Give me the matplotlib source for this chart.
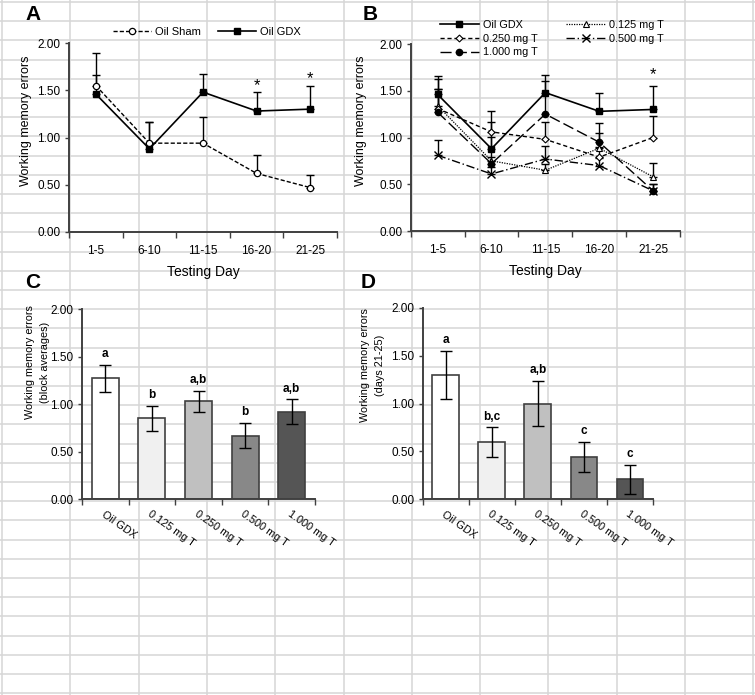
import matplotlib
matplotlib.use("Agg")
import matplotlib.pyplot as plt
import numpy as np

plt.rcParams['font.family'] = ['Liberation Sans', 'DejaVu Sans']

# ---- data ----
blocks = ["1-5", "6-10", "11-15", "16-20", "21-25"]

# panel A
sham_mean = [1.55, 0.94, 0.94, 0.62, 0.47]
sham_sem = [0.34, 0.22, 0.28, 0.20, 0.13]
gdx_mean = [1.46, 0.88, 1.48, 1.28, 1.30]
gdx_sem_a = [0.20, 0.28, 0.19, 0.20, 0.25]
sig_a = [False, False, False, True, True]

# panel B (dose groups)
gdx_sem = [0.20, 0.40, 0.19, 0.20, 0.25]
t125_mean = [1.34, 0.75, 0.65, 0.885, 0.58]
t125_sem = [0.29, 0.04, 0.07, 0.165, 0.15]
t250_mean = [1.31, 1.06, 0.98, 0.79, 1.00]
t250_sem = [0.21, 0.105, 0.185, 0.11, 0.235]
t500_mean = [0.81, 0.61, 0.77, 0.70, 0.43]
t500_sem = [0.16, 0.07, 0.14, 0.08, 0.07]
t1000_mean = [1.27, 0.72, 1.25, 0.95, 0.43]
t1000_sem = [0.25, 0.29, 0.35, 0.20, 0.07]
sig_b = [False, False, False, False, True]

# panels C and D
groups = ["Oil GDX", "0.125 mg T", "0.250 mg T", "0.500 mg T", "1.000 mg T"]
block_avg = [1.27, 0.85, 1.03, 0.67, 0.92]
block_sem = [0.14, 0.135, 0.11, 0.13, 0.13]
block_letters = ["a", "b", "a,b", "b", "a,b"]
late_avg = [1.30, 0.595, 1.00, 0.44, 0.21]
late_sem = [0.25, 0.155, 0.24, 0.16, 0.15]
late_letters = ["a", "b,c", "a,b", "c", "c"]
bar_colors = ["#ffffff", "#f0f0f0", "#c0c0c0", "#888888", "#555555"]

W, H = 755, 695
fig = plt.figure(figsize=(W / 100, H / 100), dpi=100)


def px_axes(left, top, right, bottom, **kw):
    return fig.add_axes([left / W, 1 - bottom / H, (right - left) / W, (bottom - top) / H], **kw)


# spreadsheet cell grid in the background
bg = fig.add_axes([0, 0, 1, 1], zorder=-5)
bg.set_xlim(0, W)
bg.set_ylim(H, 0)
bg.axis("off")
for gx in np.arange(2, W + 1, 68.3):
    bg.axvline(gx, color="#d6d6d6", lw=1.1)
for gy in np.arange(2, H + 1, 19.2):
    bg.axhline(gy, color="#d6d6d6", lw=1.1)

axis_col = "#404040"


def style_axes(ax, n):
    ax.patch.set_alpha(0)
    for s in ["top", "right"]:
        ax.spines[s].set_visible(False)
    for s in ["left", "bottom"]:
        ax.spines[s].set_color(axis_col)
        ax.spines[s].set_linewidth(1.4)
    ax.set_ylim(0, 2)
    ax.set_xlim(-0.5, n - 0.5)
    ax.set_yticks([0, 0.5, 1.0, 1.5, 2.0])
    ax.set_yticklabels(["%.2f" % v for v in [0, 0.5, 1.0, 1.5, 2.0]], fontsize=8.5)
    ax.set_xticks(np.arange(n))
    ax.set_xticks(np.arange(n + 1) - 0.5, minor=True)
    ax.tick_params(axis="y", direction="out", length=3, width=1, color=axis_col, pad=3)
    ax.tick_params(axis="x", which="major", length=0, pad=9)
    ax.tick_params(axis="x", which="minor", direction="out", length=4, width=1, color=axis_col)


def upper_err(ax, x, mean, sem):
    ax.errorbar(x, mean, yerr=[np.zeros(len(sem)), sem], fmt="none",
                ecolor="black", elinewidth=1, capsize=3, capthick=1, zorder=2)


x = np.arange(len(blocks))

# ---- panel A ----
axA = px_axes(69, 43, 337, 232)
style_axes(axA, len(blocks))
upper_err(axA, x, sham_mean, sham_sem)
upper_err(axA, x, gdx_mean, gdx_sem_a)
lA1, = axA.plot(x, sham_mean, color="black", lw=1, dashes=(3, 1.5), marker="o",
                ms=4.5, mfc="white", mec="black", mew=0.9, zorder=3)
lA2, = axA.plot(x, gdx_mean, color="black", lw=1.2, marker="s", ms=5,
                mfc="black", mec="black", zorder=3)
for i, s in enumerate(sig_a):
    if s:
        axA.text(i, gdx_mean[i] + gdx_sem_a[i] + 0.07, "*", ha="center", va="center",
                 fontsize=12)
axA.set_xticklabels(blocks, fontsize=8.5)
axA.set_xlabel("Testing Day", fontsize=10, labelpad=6)
axA.set_ylabel("Working memory errors", fontsize=9)
axA.yaxis.set_label_coords(-0.138, 0.59)
fig.legend([lA1, lA2], ["Oil Sham", "Oil GDX"], ncol=2, frameon=False, fontsize=8,
           loc="center", bbox_to_anchor=(207 / W, 1 - 32 / H), handlelength=3.4,
           columnspacing=1.5, handletextpad=0.4)

# ---- panel B ----
axB = px_axes(410.7, 44, 680, 231)
style_axes(axB, len(blocks))
for m, s in [(gdx_mean, gdx_sem), (t125_mean, t125_sem), (t250_mean, t250_sem),
             (t500_mean, t500_sem), (t1000_mean, t1000_sem)]:
    upper_err(axB, x, m, s)
lB_gdx, = axB.plot(x, gdx_mean, color="black", lw=1.2, marker="s", ms=5, zorder=3)
lB_125, = axB.plot(x, t125_mean, color="black", lw=0.9, dashes=(1, 1), marker="^",
                   ms=4, mfc="white", mec="black", mew=0.8, zorder=3)
lB_250, = axB.plot(x, t250_mean, color="black", lw=1, dashes=(3, 2), marker="D",
                   ms=3.5, mfc="white", mec="black", mew=0.8, zorder=3)
lB_500, = axB.plot(x, t500_mean, color="black", lw=1, dashes=(6, 2, 1, 2), marker="x",
                   ms=6, mec="black", mew=1, zorder=3)
lB_1000, = axB.plot(x, t1000_mean, color="black", lw=1, dashes=(8, 3), marker="o",
                    ms=4.5, mfc="black", mec="black", zorder=3)
for i, s in enumerate(sig_b):
    if s:
        axB.text(i, 1.67, "*", ha="center", va="center", fontsize=12)
axB.set_xticklabels(blocks, fontsize=8.5)
axB.set_xlabel("Testing Day", fontsize=10, labelpad=6)
axB.set_ylabel("Working memory errors", fontsize=9)
axB.yaxis.set_label_coords(-0.162, 0.59)
fig.legend([lB_gdx, lB_250, lB_1000, lB_125, lB_500],
           ["Oil GDX", "0.250 mg T", "1.000 mg T", "0.125 mg T", "0.500 mg T"],
           ncol=2, frameon=False, fontsize=7.8, loc="upper left",
           bbox_to_anchor=(430 / W, 1 - 10 / H), handlelength=3.6,
           columnspacing=2.6, handletextpad=0.4, labelspacing=0.35)


# ---- panels C and D ----
def bar_panel(ax, vals, sems, letters, ylabel, lx, ly):
    style_axes(ax, len(groups))
    xb = np.arange(len(groups))
    ax.bar(xb, vals, width=0.58, color=bar_colors, edgecolor="#404040", linewidth=1.2,
           yerr=sems, error_kw=dict(ecolor="black", elinewidth=1, capsize=4, capthick=1),
           zorder=2)
    for i in range(len(groups)):
        ax.text(i, vals[i] + sems[i] + 0.05, letters[i], ha="center", va="bottom",
                fontsize=8.5, fontweight="bold")
    ax.set_xticklabels(groups, fontsize=7.8, rotation=-35, ha="left",
                       rotation_mode="anchor")
    ax.tick_params(axis="x", which="major", pad=7)
    ax.set_ylabel(ylabel, fontsize=7.8, linespacing=1.6)
    ax.yaxis.set_label_coords(lx, ly)


axC = px_axes(82, 309, 315, 499.3)
bar_panel(axC, block_avg, block_sem, block_letters,
          "Working memory errors\n(block averages)", -0.137, 0.72)

axD = px_axes(422.7, 307.7, 653, 499.3)
bar_panel(axD, late_avg, late_sem, late_letters,
          "Working memory errors\n(days 21-25)", -0.164, 0.70)

# panel letters
for lab, (px, py) in {"A": (33, 15), "B": (370, 15), "C": (33, 282), "D": (368, 282)}.items():
    fig.text(px / W, 1 - py / H, lab, ha="center", va="center", fontsize=15,
             fontweight="bold")

fig.savefig("out.png", dpi=100)
